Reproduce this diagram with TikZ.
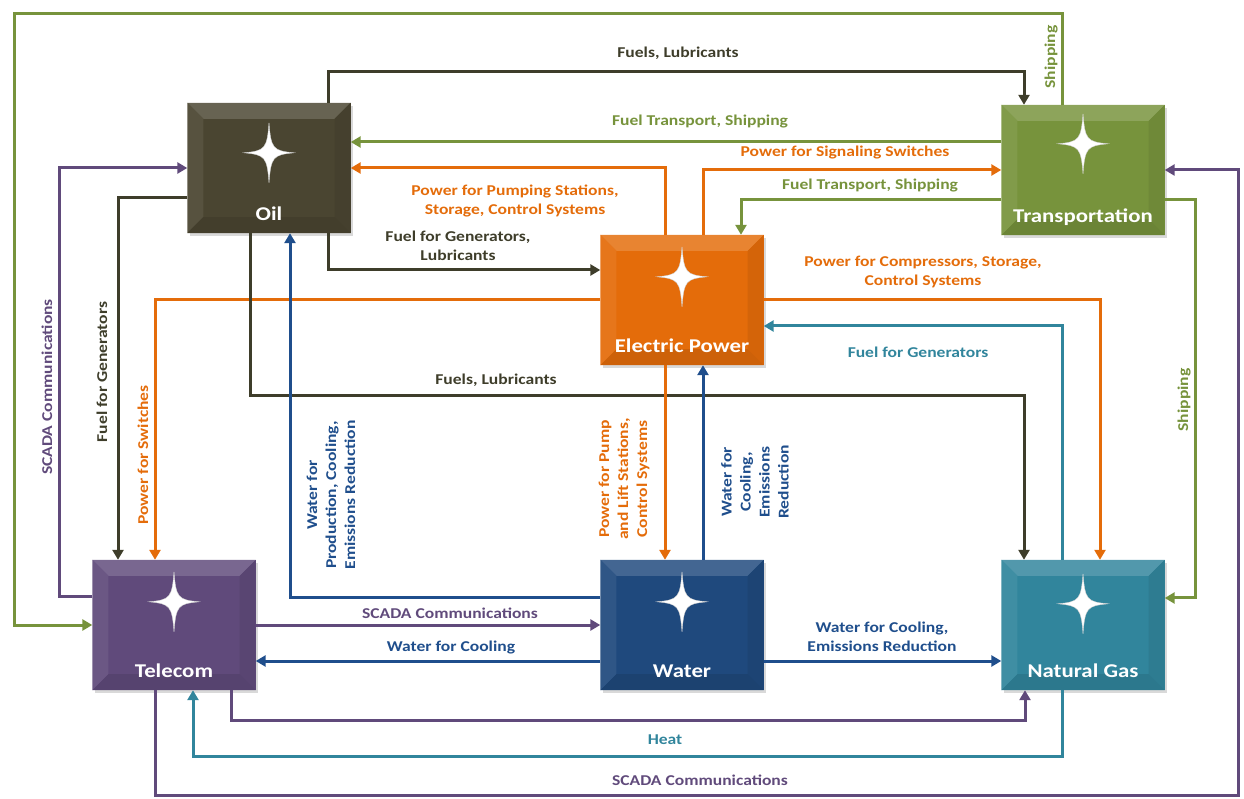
\documentclass[tikz,border=0pt]{standalone}
\usepackage{fontspec}
\setmainfont[FakeStretch=1.17]{Carlito}
\usetikzlibrary{arrows.meta,shadows}

\definecolor{oilc}{RGB}{74,69,49}
\definecolor{oilline}{RGB}{62,61,42}
\definecolor{transc}{RGB}{119,147,60}
\definecolor{powerc}{RGB}{228,108,10}
\definecolor{telc}{RGB}{96,74,123}
\definecolor{waterc}{RGB}{31,73,125}
\definecolor{waterline}{RGB}{31,78,140}
\definecolor{gasc}{RGB}{49,133,156}

\begin{document}
\begin{tikzpicture}[x=1pt,y=1pt,
  sector/.style={minimum width=163pt, minimum height=130pt, inner sep=0pt,
    drop shadow={opacity=0.3, shadow xshift=2pt, shadow yshift=-3pt}},
  sectorname/.style={text=white, font=\fontsize{19.5}{22}\selectfont\bfseries, inner sep=0pt, anchor=base},
  flow/.style={line width=3pt, -{Triangle[length=10pt,width=11pt]}},
  lbl/.style={font=\fontsize{15}{19}\selectfont\bfseries, align=center, inner sep=0pt}]

  \useasboundingbox (0,0) rectangle (1244,798);

  % Sector boxes
  \foreach \n/\x/\y/\s/\c/\t in {oil/269/630/50/oilc/Oil, trans/1083/628/39/transc/Transportation,
      power/682/498/42/powerc/Electric Power, tel/174/173/42/telc/Telecom,
      water/682/173/42/waterc/Water, gas/1083/173/44/gasc/Natural Gas} {
    \node[sector, fill=\c] (\n) at (\x,\y) {};
    \fill[\c!84!white] (\n.north west) -- (\n.north east) -- ([shift={(-16,-16)}]\n.north east) -- ([shift={(16,-16)}]\n.north west) -- cycle;
    \fill[\c!93!white] (\n.north west) -- ([shift={(16,-16)}]\n.north west) -- ([shift={(16,16)}]\n.south west) -- (\n.south west) -- cycle;
    \fill[\c!93!black] (\n.north east) -- ([shift={(-16,-16)}]\n.north east) -- ([shift={(-16,16)}]\n.south east) -- (\n.south east) -- cycle;
    \fill[\c!90!black] (\n.south west) -- ([shift={(16,16)}]\n.south west) -- ([shift={(-16,16)}]\n.south east) -- (\n.south east) -- cycle;
    \path ([yshift=-\s pt]\n.north) coordinate (\n-star);
    \fill[white, draw=gray!35, line width=0.4pt, shift={(\n-star)}] (0,30) .. controls (2,4) and (4,2) .. (25,0)
      .. controls (4,-2) and (2,-4) .. (0,-30) .. controls (-2,-4) and (-4,-2) .. (-25,0)
      .. controls (-4,2) and (-2,4) .. cycle;
    \node[sectorname] (\n-name) at ([yshift=13pt]\n.south) {\t};
  }

  % Around the top and the left
  \draw[flow, transc] ([xshift=-21pt]trans.north) |- (14,784) |- (tel.west);
  \node[lbl, text=transc, rotate=90] (ship-top) at (1051,741) {Shipping};

  \draw[flow, oilline] ([xshift=59pt]oil.north) -- ++(0,31) -| ([xshift=-59pt]trans.north);
  \node[lbl, text=oilline] (fuel-top) at (678,745) {Fuels, Lubricants};

  \draw[flow, transc] ([yshift=28pt]trans.west) -- ([yshift=28pt]trans.west -| oil.east);
  \node[lbl, text=transc] (ship-oil) at (700,676) {Fuel Transport,\ Shipping};

  % From electric power
  \draw[flow, powerc] ([xshift=-17pt]power.north) |- (oil.east);
  \node[lbl, text=powerc] (pow-oil) at (515,597) {Power for Pumping Stations,\\Storage, Control Systems};

  \draw[flow, powerc] ([xshift=21pt]power.north) |- (trans.west);
  \node[lbl, text=powerc] (pow-trans) at (845,645) {Power for Signaling Switches};

  \draw[flow, transc] ([yshift=-30pt]trans.west) -| ([xshift=59pt]power.north);
  \node[lbl, text=transc] (ship-pow) at (870,612) {Fuel Transport,\ Shipping};

  \draw[flow, oilline] ([xshift=59pt]oil.south) |- ([yshift=30pt]power.west);
  \node[lbl, text=oilline] (fuel-pow) at (458,552) {Fuel for Generators,\\Lubricants};

  \draw[flow, powerc] (power.east) -| ([xshift=17pt]gas.north);
  \node[lbl, text=powerc] (pow-gas) at (923,526) {Power for Compressors, Storage,\\Control Systems};

  \draw[flow, powerc] (power.west) -| ([xshift=-19pt]tel.north);
  \node[lbl, text=powerc, rotate=90] (pow-tel) at (143,343) {Power for Switches};

  \draw[flow, gasc] ([xshift=-21pt]gas.north) |- ([yshift=-26pt]power.east);
  \node[lbl, text=gasc] (gas-pow) at (918,446) {Fuel for Generators};

  % From oil
  \draw[flow, oilline] ([xshift=-19pt]oil.south) -- ++(0,-162) -| ([xshift=-59pt]gas.north);
  \node[lbl, text=oilline] (fuel-gas) at (496,418) {Fuels, Lubricants};

  \draw[flow, oilline] ([yshift=-30pt]oil.west) -| ([xshift=-56pt]tel.north);
  \node[lbl, text=oilline, rotate=90] (fuel-tel) at (102,426) {Fuel for Generators};

  \draw[flow, telc] ([yshift=28pt]tel.west) -- ++(-33,0) |- (oil.west);
  \node[lbl, text=telc, rotate=90] (scada-oil) at (47,411) {SCADA Communications};

  % Water
  \draw[flow, waterline] ([yshift=27pt]water.west) -| ([xshift=21pt]oil.south);
  \node[lbl, text=waterline, rotate=90] (water-oil) at (331,303) {Water for\\Production, Cooling,\\Emissions Reduction};

  \draw[flow, powerc] ([xshift=-17pt]power.south) -- ([xshift=-17pt]water.north);
  \node[lbl, text=powerc, rotate=90] (pow-water) at (624,319) {Power for Pump\\and Lift Stations,\\Control Systems};

  \draw[flow, waterline] ([xshift=21pt]water.north) -- ([xshift=21pt]power.south);
  \node[lbl, text=waterline, rotate=90] (water-pow) at (755,316) {Water for\\Cooling,\\Emissions\\Reduction};

  \draw[flow, telc] (tel.east) -- (water.west);
  \node[lbl, text=telc] (scada-water) at (450,185) {SCADA Communications};

  \draw[flow, waterline] ([yshift=-36pt]water.west) -- ([yshift=-36pt]tel.east);
  \node[lbl, text=waterline] (water-tel) at (451,150) {Water for Cooling};

  \draw[flow, waterline] ([yshift=-36pt]water.east) -- ([yshift=-36pt]gas.west);
  \node[lbl, text=waterline] (water-gas) at (882,161) {Water for\ Cooling,\\Emissions Reduction};

  % Along the bottom and the right
  \draw[flow, telc] ([xshift=57pt]tel.south) -- ++(0,-30) -| ([xshift=-58pt]gas.south);

  \draw[flow, gasc] ([xshift=-21pt]gas.south) -- ++(0,-66) -| ([xshift=19pt]tel.south);
  \node[lbl, text=gasc] (heat) at (665,58) {Heat};

  \draw[flow, telc] ([xshift=-19pt]tel.south) |- (1238,3) |- (trans.east);
  \node[lbl, text=telc] (scada-trans) at (700,18) {SCADA Communications};

  \draw[flow, transc] ([yshift=-30pt]trans.east) -- ++(31,0) |- ([yshift=27pt]gas.east);
  \node[lbl, text=transc, rotate=90] (ship-gas) at (1184,398) {Shipping};

\end{tikzpicture}
\end{document}
